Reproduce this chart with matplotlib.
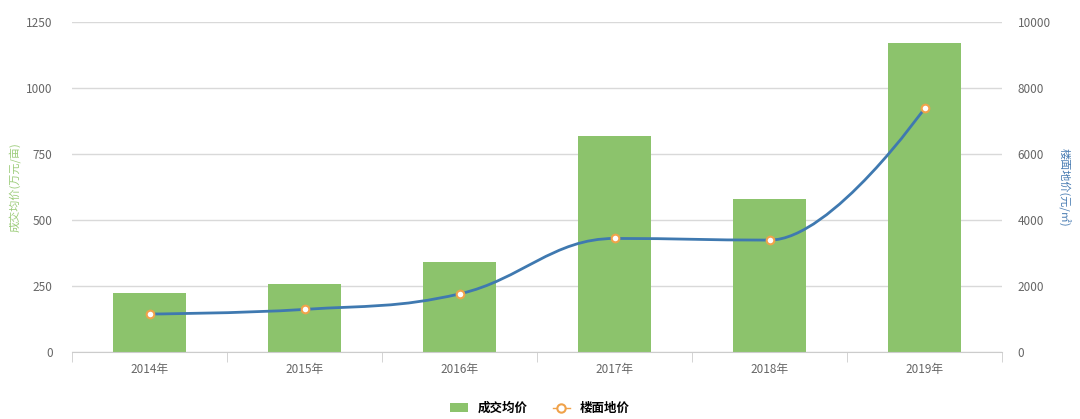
import matplotlib.pyplot as plt
import numpy as np
from matplotlib.path import Path
from matplotlib.patches import PathPatch
from matplotlib.lines import Line2D
from matplotlib.patches import Patch

plt.rcParams['font.family'] = ['Noto Sans CJK SC', 'DejaVu Sans']

years = ['2014年', '2015年', '2016年', '2017年', '2018年', '2019年']
avg_price = [222, 258, 341, 818, 580, 1172]        # 成交均价 (万元/亩)
floor_price = [1150, 1290, 1760, 3440, 3390, 7390]  # 楼面地价 (元/㎡)

bar_color = '#8cc36c'
line_color = '#3f79b0'
grid_color = '#d9d9d9'
tick_color = '#666666'


def spline_path(xs, ys, smoothing=1.5):
    # highcharts-like spline through the points
    denom = smoothing + 1
    n = len(xs)
    left = [None] * n
    right = [None] * n
    for i in range(1, n - 1):
        lx, ly = xs[i - 1], ys[i - 1]
        nx, ny = xs[i + 1], ys[i + 1]
        px, py = xs[i], ys[i]
        lcx = (smoothing * px + lx) / denom
        lcy = (smoothing * py + ly) / denom
        rcx = (smoothing * px + nx) / denom
        rcy = (smoothing * py + ny) / denom
        corr = ((rcy - lcy) * (rcx - px)) / (rcx - lcx) + py - rcy
        lcy += corr
        rcy += corr
        if lcy > ly and lcy > py:
            lcy = max(ly, py)
            rcy = 2 * py - lcy
        elif lcy < ly and lcy < py:
            lcy = min(ly, py)
            rcy = 2 * py - lcy
        if rcy > ny and rcy > py:
            rcy = max(ny, py)
            lcy = 2 * py - rcy
        elif rcy < ny and rcy < py:
            rcy = min(ny, py)
            lcy = 2 * py - rcy
        left[i] = (lcx, lcy)
        right[i] = (rcx, rcy)
    verts = [(xs[0], ys[0])]
    codes = [Path.MOVETO]
    for i in range(1, n):
        c1 = right[i - 1] if right[i - 1] else (xs[i - 1], ys[i - 1])
        c2 = left[i] if left[i] else (xs[i], ys[i])
        verts += [c1, c2, (xs[i], ys[i])]
        codes += [Path.CURVE4] * 3
    return Path(verts, codes)


fig = plt.figure(figsize=(10.8, 4.19), dpi=100)
ax = fig.add_axes([0.0667, 0.16, 0.8613, 0.7875])
x = np.arange(len(years))

ax.bar(x, avg_price, width=0.47, color=bar_color, zorder=2)
ax.set_xlim(-0.5, len(years) - 0.5)
ax.set_ylim(0, 1250)
ax.set_yticks([0, 250, 500, 750, 1000, 1250])
ax.grid(axis='y', color=grid_color, linewidth=1, zorder=0)
ax.set_axisbelow(True)
ax.set_xticks(x)
ax.set_xticklabels(years)
ax.set_xticks(np.arange(-0.5, len(years)), minor=True)
ax.tick_params(axis='x', which='major', length=0, pad=8, labelsize=8.5, labelcolor=tick_color)
ax.tick_params(axis='x', which='minor', length=7, color='#cccccc', direction='out')
ax.tick_params(axis='y', length=0, pad=14, labelsize=8.5, labelcolor=tick_color)
for s in ['top', 'right', 'left']:
    ax.spines[s].set_visible(False)
ax.spines['bottom'].set_color('#cccccc')
ax.set_ylabel('成交均价(万元/亩)', color='#9ccc7a', fontsize=8, labelpad=4)

ax2 = ax.twinx()
ax2.set_ylim(0, 10000)
ax2.set_yticks([0, 2000, 4000, 6000, 8000, 10000])
ax2.tick_params(axis='y', length=0, pad=11, labelsize=8.5, labelcolor=tick_color)
for s in ['top', 'right', 'left', 'bottom']:
    ax2.spines[s].set_visible(False)
ax2.set_ylabel('楼面地价(元/㎡)', color='#4a7db3', fontsize=8, rotation=270, labelpad=14)

path = spline_path(list(x), floor_price)
ax2.add_patch(PathPatch(path, facecolor='none', edgecolor=line_color, linewidth=2, zorder=3))
ax2.plot(x, floor_price, linestyle='none', marker='o', markersize=5.5,
         markerfacecolor='white', markeredgecolor='#f0a24a', markeredgewidth=1.5, zorder=4)

handles = [Patch(facecolor=bar_color, edgecolor='none'),
           Line2D([0], [0], color='#f0a24a', linewidth=1, marker='o', markersize=6,
                  markerfacecolor='white', markeredgecolor='#f0a24a', markeredgewidth=1.5)]
fig.legend(handles, ['成交均价', '楼面地价'], loc='center', bbox_to_anchor=(0.5, 0.025),
           ncol=2, frameon=False, handlelength=1.4, columnspacing=2,
           prop={'weight': 'bold', 'size': 9})

fig.savefig('out.png', dpi=100)
